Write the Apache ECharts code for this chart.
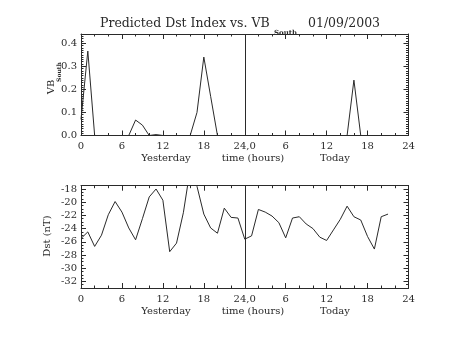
<!DOCTYPE html>
<html><head><meta charset="utf-8">
<script src="https://cdn.jsdelivr.net/npm/echarts@6/dist/echarts.min.js"></script>
<style>html,body{margin:0;padding:0;background:#fff}#c{width:453px;height:340px}</style>
</head><body><div id="c"></div>
<script>
var hours = [0,1,2,3,4,5,6,7,8,9,10,11,12,13,14,15,16,17,18,19,20,21,22,23,24,25,26,27,28,29,30,31,32,33,34,35,36,37,38,39,40,41,42,43,44,45];
var vbSouth = [0.07,0.366,0,0,0,0,0,0,0.067,0.045,0,0.004,0,0,0,0,0,0.10,0.34,0.17,0,0,0,0,0,0,0,0,0,0,0,0,0,0,0,0,0,0,0,0,0.24,0,0,0,0,0];
var dst = [-25.5,-24.5,-26.7,-25.0,-21.9,-19.9,-21.5,-23.9,-25.7,-22.5,-19.2,-18.0,-19.7,-27.5,-26.2,-21.6,-15.0,-17.6,-21.8,-23.9,-24.7,-20.9,-22.3,-22.4,-25.6,-25.1,-21.1,-21.5,-22.1,-23.1,-25.4,-22.4,-22.2,-23.3,-24.0,-25.3,-25.8,-24.2,-22.6,-20.6,-22.2,-22.7,-25.2,-27.1,-22.2,-21.8];
var xTickLabels = ['0','6','12','18','24,0','6','12','18','24'];
var vbTickLabels = ['0.0','0.1','0.2','0.3','0.4'];
var dstTickLabels = ['-18','-20','-22','-24','-26','-28','-30','-32'];

var FONT = 'DejaVu Serif';
var INK = '#2a2a2a';
var chart = echarts.init(document.getElementById('c'), null, {renderer:'canvas'});

function pairs(xs, ys){ return xs.map(function(x,i){ return [x, ys[i]]; }); }

function xAxisDef(grid, pos, showLabel){
  return {
    type:'value', gridIndex:grid, position:pos, min:0, max:48, interval:6,
    axisLine:{show:true, onZero:false, lineStyle:{color:INK, width:1}},
    axisTick:{show:true, inside:true, length:5, lineStyle:{color:INK}},
    minorTick:{show:true, splitNumber:3, length:2.5, lineStyle:{color:INK}},
    splitLine:{show:false},
    axisLabel:{show:showLabel, margin:6, fontFamily:FONT, fontSize:10, color:INK,
      formatter:function(v){ var i = Math.round(v/6); return (Math.abs(v - i*6) < 1e-6) ? xTickLabels[i] : ''; }}
  };
}
function yAxisDef(grid, pos, showLabel, min, max, split, minorSplit, fmt){
  return {
    type:'value', gridIndex:grid, position:pos, min:min, max:max, splitNumber:split,
    axisLine:{show:true, onZero:false, lineStyle:{color:INK, width:1}},
    axisTick:{show:true, inside:true, length:5, lineStyle:{color:INK}},
    minorTick:{show:true, splitNumber:minorSplit, length:2.5, lineStyle:{color:INK}},
    splitLine:{show:false},
    axisLabel:{show:showLabel, margin:4, fontFamily:FONT, fontSize:10, color:INK, formatter:fmt}
  };
}
var vbFmt = function(v){ var i = Math.round(v*10); return (Math.abs(v - i/10) < 1e-6 && i>=0 && i<=4) ? vbTickLabels[i] : ''; };
var dstFmt = function(v){ var i = Math.round((-18 - v)/2); return (Math.abs(v + 18 + 2*i) < 1e-6 && i>=0 && i<=7) ? dstTickLabels[i] : ''; };

var midLine = {silent:true, symbol:['none','none'], label:{show:false}, lineStyle:{color:INK, width:1, type:'solid'}, data:[{xAxis:24}]};

var option = {
  animation:false,
  grid:[
    {left:81, right:44.5, top:34, height:101.5},
    {left:81, right:44.5, top:185.7, height:102.3}
  ],
  xAxis:[ xAxisDef(0,'bottom',true), xAxisDef(0,'top',false), xAxisDef(1,'bottom',true), xAxisDef(1,'top',false) ],
  yAxis:[
    yAxisDef(0,'left',true,0,0.44,4,10,vbFmt), yAxisDef(0,'right',false,0,0.44,4,10,vbFmt),
    yAxisDef(1,'left',true,-33,-17.5,7,4,dstFmt), yAxisDef(1,'right',false,-33,-17.5,7,4,dstFmt)
  ],
  series:[
    {type:'line', xAxisIndex:0, yAxisIndex:0, data:pairs(hours, vbSouth), showSymbol:false, lineStyle:{color:INK, width:1}, markLine:midLine},
    {type:'line', xAxisIndex:2, yAxisIndex:2, data:pairs(hours, dst), showSymbol:false, clip:true, lineStyle:{color:INK, width:1}, markLine:midLine}
  ],
  graphic:[
    {type:'text', left:100, top:17, style:{text:'Predicted Dst Index vs. VB', font:'12.5px "DejaVu Serif"', fill:INK}},
    {type:'text', left:274, top:30, style:{text:'South', font:'bold 7px "DejaVu Serif"', fill:INK}},
    {type:'text', left:308, top:17, style:{text:'01/09/2003', font:'12.5px "DejaVu Serif"', fill:INK}},
    {type:'text', x:51, y:87, rotation:Math.PI/2, style:{text:'VB', font:'10px "DejaVu Serif"', fill:INK, align:'center', verticalAlign:'middle'}},
    {type:'text', x:59, y:72, rotation:Math.PI/2, style:{text:'South', font:'bold 6px "DejaVu Serif"', fill:INK, align:'center', verticalAlign:'middle'}},
    {type:'text', x:47, y:236, rotation:Math.PI/2, style:{text:'Dst (nT)', font:'10px "DejaVu Serif"', fill:INK, align:'center', verticalAlign:'middle'}},
    {type:'text', x:166, y:158, style:{text:'Yesterday', font:'10px "DejaVu Serif"', fill:INK, align:'center', verticalAlign:'middle'}},
    {type:'text', x:253, y:158, style:{text:'time (hours)', font:'10px "DejaVu Serif"', fill:INK, align:'center', verticalAlign:'middle'}},
    {type:'text', x:335, y:158, style:{text:'Today', font:'10px "DejaVu Serif"', fill:INK, align:'center', verticalAlign:'middle'}},
    {type:'text', x:166, y:311, style:{text:'Yesterday', font:'10px "DejaVu Serif"', fill:INK, align:'center', verticalAlign:'middle'}},
    {type:'text', x:253, y:311, style:{text:'time (hours)', font:'10px "DejaVu Serif"', fill:INK, align:'center', verticalAlign:'middle'}},
    {type:'text', x:335, y:311, style:{text:'Today', font:'10px "DejaVu Serif"', fill:INK, align:'center', verticalAlign:'middle'}}
  ]
};
chart.setOption(option);
</script></body></html>
